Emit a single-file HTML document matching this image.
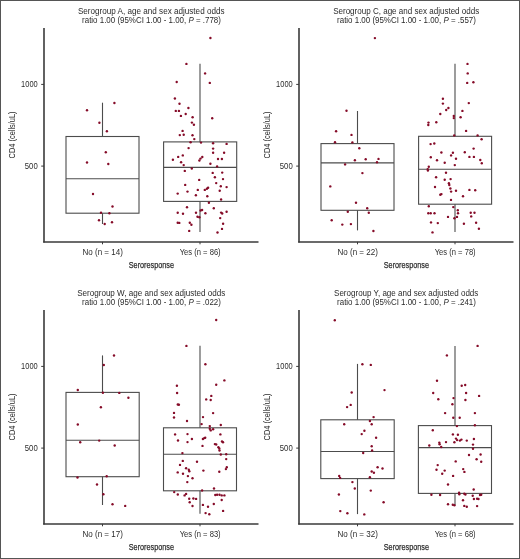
<!DOCTYPE html>
<html><head><meta charset="utf-8"><style>
html,body{margin:0;padding:0;background:#fff;}
body{width:520px;height:559px;overflow:hidden;}
svg{display:block;will-change:transform;}
text{font-family:"Liberation Sans", sans-serif;fill:#2b2b2b;}
</style></head><body>
<svg width="520" height="559" viewBox="0 0 520 559">
<rect x="0" y="0" width="520" height="559" fill="#fff"/>
<text x="151.2" y="13.5" text-anchor="middle" font-size="9.0" textLength="146.6" lengthAdjust="spacingAndGlyphs">Serogroup A, age and sex adjusted odds</text>
<text x="151.5" y="23.0" text-anchor="middle" font-size="9.0" textLength="138.8" lengthAdjust="spacingAndGlyphs">ratio 1.00 (95%CI 1.00 - 1.00, <tspan font-style="italic">P</tspan> = .778)</text>
<line x1="44" y1="28" x2="44" y2="242.6" stroke="#3a3a3a" stroke-width="1.6"/>
<line x1="43.2" y1="241.9" x2="258.5" y2="241.9" stroke="#3a3a3a" stroke-width="1.5"/>
<line x1="41.2" y1="84.4" x2="44" y2="84.4" stroke="#3a3a3a" stroke-width="1"/>
<text x="37.7" y="87.30000000000001" text-anchor="end" font-size="8.8" textLength="16.6" lengthAdjust="spacingAndGlyphs">1000</text>
<line x1="41.2" y1="166.1" x2="44" y2="166.1" stroke="#3a3a3a" stroke-width="1"/>
<text x="37.7" y="169.0" text-anchor="end" font-size="8.8" textLength="12.9" lengthAdjust="spacingAndGlyphs">500</text>
<line x1="102.5" y1="241.9" x2="102.5" y2="244.3" stroke="#3a3a3a" stroke-width="1"/>
<text x="102.7" y="254.7" text-anchor="middle" font-size="8.2" textLength="40.4" lengthAdjust="spacingAndGlyphs">No (n = 14)</text>
<line x1="200" y1="241.9" x2="200" y2="244.3" stroke="#3a3a3a" stroke-width="1"/>
<text x="200.2" y="254.7" text-anchor="middle" font-size="8.2" textLength="40.9" lengthAdjust="spacingAndGlyphs">Yes (n = 86)</text>
<text x="151.4" y="268.2" text-anchor="middle" font-size="9.9" textLength="45.3" lengthAdjust="spacingAndGlyphs" stroke="#2b2b2b" stroke-width="0.25">Seroresponse</text>
<text transform="translate(14.9,134.9) rotate(-90)" text-anchor="middle" font-size="8.6" textLength="47" lengthAdjust="spacingAndGlyphs">CD4 (cells/uL)</text>
<rect x="66" y="136.5" width="73" height="76.69999999999999" fill="none" stroke="#4c4c4c" stroke-width="1.1"/>
<line x1="66" y1="178.8" x2="139" y2="178.8" stroke="#4c4c4c" stroke-width="1.1"/>
<line x1="102.5" y1="102.7" x2="102.5" y2="136.5" stroke="#4c4c4c" stroke-width="1.1"/>
<line x1="102.5" y1="213.2" x2="102.5" y2="224" stroke="#4c4c4c" stroke-width="1.1"/>
<rect x="163.6" y="141.9" width="73.1" height="59.5" fill="none" stroke="#4c4c4c" stroke-width="1.1"/>
<line x1="163.6" y1="167.4" x2="236.7" y2="167.4" stroke="#4c4c4c" stroke-width="1.1"/>
<line x1="200.0" y1="63.8" x2="200.0" y2="141.9" stroke="#4c4c4c" stroke-width="1.1"/>
<line x1="200.0" y1="201.4" x2="200.0" y2="231.9" stroke="#4c4c4c" stroke-width="1.1"/>
<circle cx="114.4" cy="103.0" r="1.2" fill="#850b28"/>
<circle cx="87.0" cy="110.3" r="1.2" fill="#850b28"/>
<circle cx="99.4" cy="122.7" r="1.2" fill="#850b28"/>
<circle cx="106.9" cy="131.3" r="1.2" fill="#850b28"/>
<circle cx="105.8" cy="152.3" r="1.2" fill="#850b28"/>
<circle cx="87.0" cy="162.5" r="1.2" fill="#850b28"/>
<circle cx="108.3" cy="164.0" r="1.2" fill="#850b28"/>
<circle cx="93.0" cy="194.0" r="1.2" fill="#850b28"/>
<circle cx="112.5" cy="206.5" r="1.2" fill="#850b28"/>
<circle cx="101.0" cy="212.8" r="1.2" fill="#850b28"/>
<circle cx="109.4" cy="213.2" r="1.2" fill="#850b28"/>
<circle cx="99.0" cy="220.3" r="1.2" fill="#850b28"/>
<circle cx="104.7" cy="224.0" r="1.2" fill="#850b28"/>
<circle cx="112.0" cy="222.2" r="1.2" fill="#850b28"/>
<circle cx="210.4" cy="38.0" r="1.2" fill="#850b28"/>
<circle cx="186.4" cy="63.9" r="1.2" fill="#850b28"/>
<circle cx="205.1" cy="73.4" r="1.2" fill="#850b28"/>
<circle cx="176.7" cy="82.0" r="1.2" fill="#850b28"/>
<circle cx="209.8" cy="82.9" r="1.2" fill="#850b28"/>
<circle cx="174.9" cy="98.5" r="1.2" fill="#850b28"/>
<circle cx="179.5" cy="103.8" r="1.2" fill="#850b28"/>
<circle cx="175.8" cy="110.9" r="1.2" fill="#850b28"/>
<circle cx="178.9" cy="110.9" r="1.2" fill="#850b28"/>
<circle cx="188.4" cy="108.0" r="1.2" fill="#850b28"/>
<circle cx="180.9" cy="115.9" r="1.2" fill="#850b28"/>
<circle cx="185.7" cy="114.0" r="1.2" fill="#850b28"/>
<circle cx="192.6" cy="117.3" r="1.2" fill="#850b28"/>
<circle cx="212.2" cy="118.3" r="1.2" fill="#850b28"/>
<circle cx="191.9" cy="122.6" r="1.2" fill="#850b28"/>
<circle cx="193.9" cy="124.8" r="1.2" fill="#850b28"/>
<circle cx="182.6" cy="130.9" r="1.2" fill="#850b28"/>
<circle cx="179.8" cy="135.1" r="1.2" fill="#850b28"/>
<circle cx="183.7" cy="134.7" r="1.2" fill="#850b28"/>
<circle cx="192.5" cy="135.2" r="1.2" fill="#850b28"/>
<circle cx="194.3" cy="139.1" r="1.2" fill="#850b28"/>
<circle cx="190.6" cy="142.2" r="1.2" fill="#850b28"/>
<circle cx="201.0" cy="142.6" r="1.2" fill="#850b28"/>
<circle cx="213.1" cy="143.2" r="1.2" fill="#850b28"/>
<circle cx="226.6" cy="143.9" r="1.2" fill="#850b28"/>
<circle cx="188.6" cy="148.1" r="1.2" fill="#850b28"/>
<circle cx="213.1" cy="148.6" r="1.2" fill="#850b28"/>
<circle cx="213.1" cy="152.7" r="1.2" fill="#850b28"/>
<circle cx="224.1" cy="152.7" r="1.2" fill="#850b28"/>
<circle cx="182.8" cy="155.4" r="1.2" fill="#850b28"/>
<circle cx="178.2" cy="156.9" r="1.2" fill="#850b28"/>
<circle cx="172.9" cy="159.8" r="1.2" fill="#850b28"/>
<circle cx="202.3" cy="157.0" r="1.2" fill="#850b28"/>
<circle cx="200.5" cy="158.6" r="1.2" fill="#850b28"/>
<circle cx="199.4" cy="160.5" r="1.2" fill="#850b28"/>
<circle cx="218.0" cy="159.0" r="1.2" fill="#850b28"/>
<circle cx="221.9" cy="159.0" r="1.2" fill="#850b28"/>
<circle cx="181.1" cy="162.2" r="1.2" fill="#850b28"/>
<circle cx="183.7" cy="165.1" r="1.2" fill="#850b28"/>
<circle cx="210.4" cy="163.7" r="1.2" fill="#850b28"/>
<circle cx="217.1" cy="166.4" r="1.2" fill="#850b28"/>
<circle cx="191.8" cy="168.5" r="1.2" fill="#850b28"/>
<circle cx="184.8" cy="170.9" r="1.2" fill="#850b28"/>
<circle cx="212.7" cy="172.9" r="1.2" fill="#850b28"/>
<circle cx="222.2" cy="172.6" r="1.2" fill="#850b28"/>
<circle cx="214.9" cy="177.3" r="1.2" fill="#850b28"/>
<circle cx="199.2" cy="179.9" r="1.2" fill="#850b28"/>
<circle cx="223.0" cy="179.1" r="1.2" fill="#850b28"/>
<circle cx="216.2" cy="183.1" r="1.2" fill="#850b28"/>
<circle cx="185.2" cy="184.9" r="1.2" fill="#850b28"/>
<circle cx="220.8" cy="186.3" r="1.2" fill="#850b28"/>
<circle cx="226.6" cy="187.1" r="1.2" fill="#850b28"/>
<circle cx="197.8" cy="189.9" r="1.2" fill="#850b28"/>
<circle cx="204.8" cy="189.9" r="1.2" fill="#850b28"/>
<circle cx="206.9" cy="188.7" r="1.2" fill="#850b28"/>
<circle cx="208.1" cy="187.8" r="1.2" fill="#850b28"/>
<circle cx="187.5" cy="191.6" r="1.2" fill="#850b28"/>
<circle cx="219.7" cy="190.7" r="1.2" fill="#850b28"/>
<circle cx="177.7" cy="193.6" r="1.2" fill="#850b28"/>
<circle cx="195.9" cy="195.2" r="1.2" fill="#850b28"/>
<circle cx="207.3" cy="196.2" r="1.2" fill="#850b28"/>
<circle cx="221.1" cy="199.5" r="1.2" fill="#850b28"/>
<circle cx="208.9" cy="202.8" r="1.2" fill="#850b28"/>
<circle cx="187.0" cy="207.3" r="1.2" fill="#850b28"/>
<circle cx="213.8" cy="208.3" r="1.2" fill="#850b28"/>
<circle cx="200.6" cy="210.5" r="1.2" fill="#850b28"/>
<circle cx="202.1" cy="210.0" r="1.2" fill="#850b28"/>
<circle cx="177.7" cy="212.8" r="1.2" fill="#850b28"/>
<circle cx="183.0" cy="213.7" r="1.2" fill="#850b28"/>
<circle cx="196.0" cy="212.7" r="1.2" fill="#850b28"/>
<circle cx="205.4" cy="213.3" r="1.2" fill="#850b28"/>
<circle cx="221.1" cy="212.6" r="1.2" fill="#850b28"/>
<circle cx="222.2" cy="213.5" r="1.2" fill="#850b28"/>
<circle cx="226.6" cy="211.7" r="1.2" fill="#850b28"/>
<circle cx="197.5" cy="216.8" r="1.2" fill="#850b28"/>
<circle cx="199.4" cy="217.3" r="1.2" fill="#850b28"/>
<circle cx="220.2" cy="218.1" r="1.2" fill="#850b28"/>
<circle cx="177.7" cy="222.7" r="1.2" fill="#850b28"/>
<circle cx="179.3" cy="222.9" r="1.2" fill="#850b28"/>
<circle cx="189.8" cy="222.8" r="1.2" fill="#850b28"/>
<circle cx="191.4" cy="224.8" r="1.2" fill="#850b28"/>
<circle cx="223.1" cy="223.8" r="1.2" fill="#850b28"/>
<circle cx="222.0" cy="228.9" r="1.2" fill="#850b28"/>
<circle cx="189.2" cy="230.9" r="1.2" fill="#850b28"/>
<circle cx="217.5" cy="232.5" r="1.2" fill="#850b28"/>
<text x="406.2" y="13.5" text-anchor="middle" font-size="9.0" textLength="146.1" lengthAdjust="spacingAndGlyphs">Serogroup C, age and sex adjusted odds</text>
<text x="406.5" y="23.0" text-anchor="middle" font-size="9.0" textLength="138.8" lengthAdjust="spacingAndGlyphs">ratio 1.00 (95%CI 1.00 - 1.00, <tspan font-style="italic">P</tspan> = .557)</text>
<line x1="299" y1="28" x2="299" y2="242.6" stroke="#3a3a3a" stroke-width="1.6"/>
<line x1="298.2" y1="241.9" x2="513.5" y2="241.9" stroke="#3a3a3a" stroke-width="1.5"/>
<line x1="296.2" y1="84.4" x2="299" y2="84.4" stroke="#3a3a3a" stroke-width="1"/>
<text x="292.7" y="87.30000000000001" text-anchor="end" font-size="8.8" textLength="16.6" lengthAdjust="spacingAndGlyphs">1000</text>
<line x1="296.2" y1="166.1" x2="299" y2="166.1" stroke="#3a3a3a" stroke-width="1"/>
<text x="292.7" y="169.0" text-anchor="end" font-size="8.8" textLength="12.9" lengthAdjust="spacingAndGlyphs">500</text>
<line x1="357.5" y1="241.9" x2="357.5" y2="244.3" stroke="#3a3a3a" stroke-width="1"/>
<text x="357.7" y="254.7" text-anchor="middle" font-size="8.2" textLength="40.4" lengthAdjust="spacingAndGlyphs">No (n = 22)</text>
<line x1="455" y1="241.9" x2="455" y2="244.3" stroke="#3a3a3a" stroke-width="1"/>
<text x="455.2" y="254.7" text-anchor="middle" font-size="8.2" textLength="40.9" lengthAdjust="spacingAndGlyphs">Yes (n = 78)</text>
<text x="406.4" y="268.2" text-anchor="middle" font-size="9.9" textLength="45.3" lengthAdjust="spacingAndGlyphs" stroke="#2b2b2b" stroke-width="0.25">Seroresponse</text>
<text transform="translate(269.9,134.9) rotate(-90)" text-anchor="middle" font-size="8.6" textLength="47" lengthAdjust="spacingAndGlyphs">CD4 (cells/uL)</text>
<rect x="321" y="143.6" width="73" height="66.70000000000002" fill="none" stroke="#4c4c4c" stroke-width="1.1"/>
<line x1="321" y1="162.9" x2="394" y2="162.9" stroke="#4c4c4c" stroke-width="1.1"/>
<line x1="357.5" y1="111" x2="357.5" y2="143.6" stroke="#4c4c4c" stroke-width="1.1"/>
<line x1="357.5" y1="210.3" x2="357.5" y2="230.4" stroke="#4c4c4c" stroke-width="1.1"/>
<rect x="418.6" y="136.3" width="73.0" height="67.89999999999998" fill="none" stroke="#4c4c4c" stroke-width="1.1"/>
<line x1="418.6" y1="169.3" x2="491.6" y2="169.3" stroke="#4c4c4c" stroke-width="1.1"/>
<line x1="455.0" y1="63.7" x2="455.0" y2="136.3" stroke="#4c4c4c" stroke-width="1.1"/>
<line x1="455.0" y1="204.2" x2="455.0" y2="231.9" stroke="#4c4c4c" stroke-width="1.1"/>
<circle cx="374.9" cy="38.1" r="1.2" fill="#850b28"/>
<circle cx="346.5" cy="110.8" r="1.2" fill="#850b28"/>
<circle cx="336.1" cy="131.3" r="1.2" fill="#850b28"/>
<circle cx="351.5" cy="134.9" r="1.2" fill="#850b28"/>
<circle cx="335.0" cy="142.3" r="1.2" fill="#850b28"/>
<circle cx="352.4" cy="142.4" r="1.2" fill="#850b28"/>
<circle cx="359.3" cy="148.3" r="1.2" fill="#850b28"/>
<circle cx="354.9" cy="160.2" r="1.2" fill="#850b28"/>
<circle cx="365.7" cy="159.2" r="1.2" fill="#850b28"/>
<circle cx="378.5" cy="158.9" r="1.2" fill="#850b28"/>
<circle cx="377.0" cy="162.3" r="1.2" fill="#850b28"/>
<circle cx="345.1" cy="164.4" r="1.2" fill="#850b28"/>
<circle cx="362.4" cy="173.1" r="1.2" fill="#850b28"/>
<circle cx="330.3" cy="186.4" r="1.2" fill="#850b28"/>
<circle cx="356.0" cy="202.7" r="1.2" fill="#850b28"/>
<circle cx="367.2" cy="208.3" r="1.2" fill="#850b28"/>
<circle cx="347.8" cy="211.8" r="1.2" fill="#850b28"/>
<circle cx="368.8" cy="212.7" r="1.2" fill="#850b28"/>
<circle cx="331.7" cy="220.2" r="1.2" fill="#850b28"/>
<circle cx="342.3" cy="224.6" r="1.2" fill="#850b28"/>
<circle cx="350.9" cy="224.1" r="1.2" fill="#850b28"/>
<circle cx="373.4" cy="231.0" r="1.2" fill="#850b28"/>
<circle cx="467.5" cy="63.9" r="1.2" fill="#850b28"/>
<circle cx="467.7" cy="73.4" r="1.2" fill="#850b28"/>
<circle cx="467.2" cy="82.9" r="1.2" fill="#850b28"/>
<circle cx="473.4" cy="82.2" r="1.2" fill="#850b28"/>
<circle cx="442.9" cy="98.7" r="1.2" fill="#850b28"/>
<circle cx="442.9" cy="103.6" r="1.2" fill="#850b28"/>
<circle cx="468.8" cy="103.1" r="1.2" fill="#850b28"/>
<circle cx="448.4" cy="108.0" r="1.2" fill="#850b28"/>
<circle cx="446.2" cy="110.0" r="1.2" fill="#850b28"/>
<circle cx="462.4" cy="110.9" r="1.2" fill="#850b28"/>
<circle cx="440.3" cy="114.0" r="1.2" fill="#850b28"/>
<circle cx="453.8" cy="115.9" r="1.2" fill="#850b28"/>
<circle cx="453.8" cy="118.1" r="1.2" fill="#850b28"/>
<circle cx="460.6" cy="117.3" r="1.2" fill="#850b28"/>
<circle cx="436.3" cy="122.3" r="1.2" fill="#850b28"/>
<circle cx="428.5" cy="122.6" r="1.2" fill="#850b28"/>
<circle cx="428.3" cy="125.0" r="1.2" fill="#850b28"/>
<circle cx="466.1" cy="130.9" r="1.2" fill="#850b28"/>
<circle cx="454.2" cy="135.4" r="1.2" fill="#850b28"/>
<circle cx="477.6" cy="135.4" r="1.2" fill="#850b28"/>
<circle cx="481.6" cy="139.3" r="1.2" fill="#850b28"/>
<circle cx="430.6" cy="144.1" r="1.2" fill="#850b28"/>
<circle cx="434.3" cy="143.5" r="1.2" fill="#850b28"/>
<circle cx="473.6" cy="148.6" r="1.2" fill="#850b28"/>
<circle cx="441.4" cy="152.5" r="1.2" fill="#850b28"/>
<circle cx="452.9" cy="152.7" r="1.2" fill="#850b28"/>
<circle cx="464.8" cy="152.3" r="1.2" fill="#850b28"/>
<circle cx="451.1" cy="155.4" r="1.2" fill="#850b28"/>
<circle cx="430.8" cy="157.2" r="1.2" fill="#850b28"/>
<circle cx="456.0" cy="158.7" r="1.2" fill="#850b28"/>
<circle cx="469.4" cy="156.9" r="1.2" fill="#850b28"/>
<circle cx="473.9" cy="156.9" r="1.2" fill="#850b28"/>
<circle cx="437.0" cy="160.3" r="1.2" fill="#850b28"/>
<circle cx="444.7" cy="162.7" r="1.2" fill="#850b28"/>
<circle cx="480.3" cy="160.0" r="1.2" fill="#850b28"/>
<circle cx="481.8" cy="163.3" r="1.2" fill="#850b28"/>
<circle cx="454.8" cy="165.1" r="1.2" fill="#850b28"/>
<circle cx="428.8" cy="166.7" r="1.2" fill="#850b28"/>
<circle cx="427.7" cy="169.1" r="1.2" fill="#850b28"/>
<circle cx="427.9" cy="170.6" r="1.2" fill="#850b28"/>
<circle cx="446.0" cy="172.8" r="1.2" fill="#850b28"/>
<circle cx="436.1" cy="177.3" r="1.2" fill="#850b28"/>
<circle cx="444.7" cy="179.7" r="1.2" fill="#850b28"/>
<circle cx="450.6" cy="179.1" r="1.2" fill="#850b28"/>
<circle cx="448.9" cy="183.3" r="1.2" fill="#850b28"/>
<circle cx="449.3" cy="185.0" r="1.2" fill="#850b28"/>
<circle cx="435.0" cy="187.0" r="1.2" fill="#850b28"/>
<circle cx="450.4" cy="188.5" r="1.2" fill="#850b28"/>
<circle cx="451.1" cy="191.6" r="1.2" fill="#850b28"/>
<circle cx="456.0" cy="190.7" r="1.2" fill="#850b28"/>
<circle cx="469.4" cy="189.9" r="1.2" fill="#850b28"/>
<circle cx="475.2" cy="190.2" r="1.2" fill="#850b28"/>
<circle cx="440.3" cy="194.7" r="1.2" fill="#850b28"/>
<circle cx="441.4" cy="194.1" r="1.2" fill="#850b28"/>
<circle cx="463.0" cy="196.3" r="1.2" fill="#850b28"/>
<circle cx="451.0" cy="199.9" r="1.2" fill="#850b28"/>
<circle cx="428.8" cy="206.3" r="1.2" fill="#850b28"/>
<circle cx="453.3" cy="207.1" r="1.2" fill="#850b28"/>
<circle cx="457.8" cy="210.3" r="1.2" fill="#850b28"/>
<circle cx="428.3" cy="213.3" r="1.2" fill="#850b28"/>
<circle cx="430.7" cy="213.3" r="1.2" fill="#850b28"/>
<circle cx="434.5" cy="213.3" r="1.2" fill="#850b28"/>
<circle cx="458.0" cy="213.3" r="1.2" fill="#850b28"/>
<circle cx="470.7" cy="212.7" r="1.2" fill="#850b28"/>
<circle cx="474.5" cy="212.7" r="1.2" fill="#850b28"/>
<circle cx="471.2" cy="216.4" r="1.2" fill="#850b28"/>
<circle cx="448.0" cy="216.9" r="1.2" fill="#850b28"/>
<circle cx="457.0" cy="216.9" r="1.2" fill="#850b28"/>
<circle cx="454.4" cy="218.2" r="1.2" fill="#850b28"/>
<circle cx="431.0" cy="222.4" r="1.2" fill="#850b28"/>
<circle cx="437.8" cy="223.1" r="1.2" fill="#850b28"/>
<circle cx="463.9" cy="223.7" r="1.2" fill="#850b28"/>
<circle cx="476.1" cy="222.8" r="1.2" fill="#850b28"/>
<circle cx="478.9" cy="228.8" r="1.2" fill="#850b28"/>
<circle cx="432.5" cy="232.4" r="1.2" fill="#850b28"/>
<text x="151.2" y="295.5" text-anchor="middle" font-size="9.0" textLength="148" lengthAdjust="spacingAndGlyphs">Serogroup W, age and sex adjusted odds</text>
<text x="151.5" y="305.0" text-anchor="middle" font-size="9.0" textLength="138.8" lengthAdjust="spacingAndGlyphs">ratio 1.00 (95%CI 1.00 - 1.00, <tspan font-style="italic">P</tspan> = .022)</text>
<line x1="44" y1="310" x2="44" y2="524.6" stroke="#3a3a3a" stroke-width="1.6"/>
<line x1="43.2" y1="523.9" x2="258.5" y2="523.9" stroke="#3a3a3a" stroke-width="1.5"/>
<line x1="41.2" y1="366.4" x2="44" y2="366.4" stroke="#3a3a3a" stroke-width="1"/>
<text x="37.7" y="369.3" text-anchor="end" font-size="8.8" textLength="16.6" lengthAdjust="spacingAndGlyphs">1000</text>
<line x1="41.2" y1="448.1" x2="44" y2="448.1" stroke="#3a3a3a" stroke-width="1"/>
<text x="37.7" y="451.0" text-anchor="end" font-size="8.8" textLength="12.9" lengthAdjust="spacingAndGlyphs">500</text>
<line x1="102.5" y1="523.9" x2="102.5" y2="526.3" stroke="#3a3a3a" stroke-width="1"/>
<text x="102.7" y="536.7" text-anchor="middle" font-size="8.2" textLength="40.4" lengthAdjust="spacingAndGlyphs">No (n = 17)</text>
<line x1="200" y1="523.9" x2="200" y2="526.3" stroke="#3a3a3a" stroke-width="1"/>
<text x="200.2" y="536.7" text-anchor="middle" font-size="8.2" textLength="40.9" lengthAdjust="spacingAndGlyphs">Yes (n = 83)</text>
<text x="151.4" y="550.2" text-anchor="middle" font-size="9.9" textLength="45.3" lengthAdjust="spacingAndGlyphs" stroke="#2b2b2b" stroke-width="0.25">Seroresponse</text>
<text transform="translate(14.9,416.9) rotate(-90)" text-anchor="middle" font-size="8.6" textLength="47" lengthAdjust="spacingAndGlyphs">CD4 (cells/uL)</text>
<rect x="66" y="392.4" width="73.19999999999999" height="84.30000000000001" fill="none" stroke="#4c4c4c" stroke-width="1.1"/>
<line x1="66" y1="440.3" x2="139.2" y2="440.3" stroke="#4c4c4c" stroke-width="1.1"/>
<line x1="102.5" y1="355.4" x2="102.5" y2="392.4" stroke="#4c4c4c" stroke-width="1.1"/>
<line x1="102.5" y1="476.7" x2="102.5" y2="505" stroke="#4c4c4c" stroke-width="1.1"/>
<rect x="163.5" y="427.8" width="73.0" height="63.0" fill="none" stroke="#4c4c4c" stroke-width="1.1"/>
<line x1="163.5" y1="454.3" x2="236.5" y2="454.3" stroke="#4c4c4c" stroke-width="1.1"/>
<line x1="200.0" y1="345.8" x2="200.0" y2="427.8" stroke="#4c4c4c" stroke-width="1.1"/>
<line x1="200.0" y1="490.8" x2="200.0" y2="513.7" stroke="#4c4c4c" stroke-width="1.1"/>
<circle cx="114.0" cy="355.5" r="1.2" fill="#850b28"/>
<circle cx="103.8" cy="365.0" r="1.2" fill="#850b28"/>
<circle cx="77.8" cy="390.0" r="1.2" fill="#850b28"/>
<circle cx="102.9" cy="392.7" r="1.2" fill="#850b28"/>
<circle cx="119.3" cy="392.9" r="1.2" fill="#850b28"/>
<circle cx="128.4" cy="397.8" r="1.2" fill="#850b28"/>
<circle cx="100.9" cy="407.2" r="1.2" fill="#850b28"/>
<circle cx="77.8" cy="424.5" r="1.2" fill="#850b28"/>
<circle cx="80.2" cy="442.2" r="1.2" fill="#850b28"/>
<circle cx="99.2" cy="440.6" r="1.2" fill="#850b28"/>
<circle cx="114.7" cy="445.5" r="1.2" fill="#850b28"/>
<circle cx="77.5" cy="477.5" r="1.2" fill="#850b28"/>
<circle cx="106.7" cy="476.3" r="1.2" fill="#850b28"/>
<circle cx="97.0" cy="484.5" r="1.2" fill="#850b28"/>
<circle cx="103.4" cy="494.2" r="1.2" fill="#850b28"/>
<circle cx="112.5" cy="504.2" r="1.2" fill="#850b28"/>
<circle cx="125.2" cy="505.9" r="1.2" fill="#850b28"/>
<circle cx="216.2" cy="320.0" r="1.2" fill="#850b28"/>
<circle cx="186.4" cy="345.9" r="1.2" fill="#850b28"/>
<circle cx="205.4" cy="364.2" r="1.2" fill="#850b28"/>
<circle cx="224.4" cy="380.4" r="1.2" fill="#850b28"/>
<circle cx="216.2" cy="384.8" r="1.2" fill="#850b28"/>
<circle cx="176.9" cy="385.7" r="1.2" fill="#850b28"/>
<circle cx="177.1" cy="393.0" r="1.2" fill="#850b28"/>
<circle cx="211.3" cy="395.9" r="1.2" fill="#850b28"/>
<circle cx="206.2" cy="399.4" r="1.2" fill="#850b28"/>
<circle cx="210.7" cy="400.0" r="1.2" fill="#850b28"/>
<circle cx="177.8" cy="404.5" r="1.2" fill="#850b28"/>
<circle cx="178.9" cy="404.7" r="1.2" fill="#850b28"/>
<circle cx="174.0" cy="412.9" r="1.2" fill="#850b28"/>
<circle cx="213.1" cy="413.1" r="1.2" fill="#850b28"/>
<circle cx="174.0" cy="417.5" r="1.2" fill="#850b28"/>
<circle cx="203.0" cy="417.1" r="1.2" fill="#850b28"/>
<circle cx="187.0" cy="421.0" r="1.2" fill="#850b28"/>
<circle cx="201.6" cy="424.1" r="1.2" fill="#850b28"/>
<circle cx="209.8" cy="426.1" r="1.2" fill="#850b28"/>
<circle cx="220.8" cy="425.0" r="1.2" fill="#850b28"/>
<circle cx="209.8" cy="428.8" r="1.2" fill="#850b28"/>
<circle cx="210.7" cy="430.4" r="1.2" fill="#850b28"/>
<circle cx="213.1" cy="429.3" r="1.2" fill="#850b28"/>
<circle cx="175.1" cy="434.4" r="1.2" fill="#850b28"/>
<circle cx="187.5" cy="434.1" r="1.2" fill="#850b28"/>
<circle cx="220.4" cy="434.4" r="1.2" fill="#850b28"/>
<circle cx="178.0" cy="440.5" r="1.2" fill="#850b28"/>
<circle cx="187.5" cy="442.1" r="1.2" fill="#850b28"/>
<circle cx="191.9" cy="439.0" r="1.2" fill="#850b28"/>
<circle cx="202.9" cy="439.0" r="1.2" fill="#850b28"/>
<circle cx="204.3" cy="438.1" r="1.2" fill="#850b28"/>
<circle cx="205.2" cy="437.7" r="1.2" fill="#850b28"/>
<circle cx="222.0" cy="441.4" r="1.2" fill="#850b28"/>
<circle cx="223.0" cy="442.3" r="1.2" fill="#850b28"/>
<circle cx="202.5" cy="445.9" r="1.2" fill="#850b28"/>
<circle cx="214.9" cy="444.1" r="1.2" fill="#850b28"/>
<circle cx="216.2" cy="444.5" r="1.2" fill="#850b28"/>
<circle cx="218.4" cy="447.2" r="1.2" fill="#850b28"/>
<circle cx="219.3" cy="448.5" r="1.2" fill="#850b28"/>
<circle cx="219.5" cy="450.5" r="1.2" fill="#850b28"/>
<circle cx="182.4" cy="453.1" r="1.2" fill="#850b28"/>
<circle cx="220.8" cy="454.5" r="1.2" fill="#850b28"/>
<circle cx="226.2" cy="454.2" r="1.2" fill="#850b28"/>
<circle cx="226.2" cy="459.1" r="1.2" fill="#850b28"/>
<circle cx="182.8" cy="460.9" r="1.2" fill="#850b28"/>
<circle cx="197.0" cy="461.8" r="1.2" fill="#850b28"/>
<circle cx="180.0" cy="464.9" r="1.2" fill="#850b28"/>
<circle cx="226.8" cy="467.3" r="1.2" fill="#850b28"/>
<circle cx="225.9" cy="469.1" r="1.2" fill="#850b28"/>
<circle cx="186.1" cy="468.2" r="1.2" fill="#850b28"/>
<circle cx="188.8" cy="469.7" r="1.2" fill="#850b28"/>
<circle cx="189.3" cy="471.3" r="1.2" fill="#850b28"/>
<circle cx="203.4" cy="470.6" r="1.2" fill="#850b28"/>
<circle cx="219.3" cy="471.7" r="1.2" fill="#850b28"/>
<circle cx="177.7" cy="472.4" r="1.2" fill="#850b28"/>
<circle cx="183.0" cy="473.7" r="1.2" fill="#850b28"/>
<circle cx="187.9" cy="476.1" r="1.2" fill="#850b28"/>
<circle cx="192.5" cy="478.3" r="1.2" fill="#850b28"/>
<circle cx="187.3" cy="482.1" r="1.2" fill="#850b28"/>
<circle cx="214.0" cy="488.5" r="1.2" fill="#850b28"/>
<circle cx="202.1" cy="490.5" r="1.2" fill="#850b28"/>
<circle cx="174.2" cy="492.1" r="1.2" fill="#850b28"/>
<circle cx="177.8" cy="494.5" r="1.2" fill="#850b28"/>
<circle cx="184.6" cy="495.4" r="1.2" fill="#850b28"/>
<circle cx="186.1" cy="493.9" r="1.2" fill="#850b28"/>
<circle cx="215.3" cy="495.0" r="1.2" fill="#850b28"/>
<circle cx="217.1" cy="494.7" r="1.2" fill="#850b28"/>
<circle cx="219.5" cy="494.8" r="1.2" fill="#850b28"/>
<circle cx="221.7" cy="495.4" r="1.2" fill="#850b28"/>
<circle cx="224.4" cy="495.4" r="1.2" fill="#850b28"/>
<circle cx="189.2" cy="498.7" r="1.2" fill="#850b28"/>
<circle cx="193.4" cy="498.5" r="1.2" fill="#850b28"/>
<circle cx="196.1" cy="498.9" r="1.2" fill="#850b28"/>
<circle cx="221.7" cy="500.0" r="1.2" fill="#850b28"/>
<circle cx="189.7" cy="502.3" r="1.2" fill="#850b28"/>
<circle cx="192.5" cy="506.0" r="1.2" fill="#850b28"/>
<circle cx="202.9" cy="504.9" r="1.2" fill="#850b28"/>
<circle cx="208.0" cy="506.7" r="1.2" fill="#850b28"/>
<circle cx="213.8" cy="504.0" r="1.2" fill="#850b28"/>
<circle cx="223.1" cy="510.9" r="1.2" fill="#850b28"/>
<circle cx="205.6" cy="513.1" r="1.2" fill="#850b28"/>
<circle cx="209.3" cy="514.2" r="1.2" fill="#850b28"/>
<text x="406.2" y="295.5" text-anchor="middle" font-size="9.0" textLength="144.3" lengthAdjust="spacingAndGlyphs">Serogroup Y, age and sex adjusted odds</text>
<text x="406.5" y="305.0" text-anchor="middle" font-size="9.0" textLength="138.8" lengthAdjust="spacingAndGlyphs">ratio 1.00 (95%CI 1.00 - 1.00, <tspan font-style="italic">P</tspan> = .241)</text>
<line x1="299" y1="310" x2="299" y2="524.6" stroke="#3a3a3a" stroke-width="1.6"/>
<line x1="298.2" y1="523.9" x2="513.5" y2="523.9" stroke="#3a3a3a" stroke-width="1.5"/>
<line x1="296.2" y1="366.4" x2="299" y2="366.4" stroke="#3a3a3a" stroke-width="1"/>
<text x="292.7" y="369.3" text-anchor="end" font-size="8.8" textLength="16.6" lengthAdjust="spacingAndGlyphs">1000</text>
<line x1="296.2" y1="448.1" x2="299" y2="448.1" stroke="#3a3a3a" stroke-width="1"/>
<text x="292.7" y="451.0" text-anchor="end" font-size="8.8" textLength="12.9" lengthAdjust="spacingAndGlyphs">500</text>
<line x1="357.5" y1="523.9" x2="357.5" y2="526.3" stroke="#3a3a3a" stroke-width="1"/>
<text x="357.7" y="536.7" text-anchor="middle" font-size="8.2" textLength="40.4" lengthAdjust="spacingAndGlyphs">No (n = 32)</text>
<line x1="455" y1="523.9" x2="455" y2="526.3" stroke="#3a3a3a" stroke-width="1"/>
<text x="455.2" y="536.7" text-anchor="middle" font-size="8.2" textLength="40.9" lengthAdjust="spacingAndGlyphs">Yes (n = 68)</text>
<text x="406.4" y="550.2" text-anchor="middle" font-size="9.9" textLength="45.3" lengthAdjust="spacingAndGlyphs" stroke="#2b2b2b" stroke-width="0.25">Seroresponse</text>
<text transform="translate(269.9,416.9) rotate(-90)" text-anchor="middle" font-size="8.6" textLength="47" lengthAdjust="spacingAndGlyphs">CD4 (cells/uL)</text>
<rect x="320.8" y="419.8" width="73.39999999999998" height="58.80000000000001" fill="none" stroke="#4c4c4c" stroke-width="1.1"/>
<line x1="320.8" y1="451.5" x2="394.2" y2="451.5" stroke="#4c4c4c" stroke-width="1.1"/>
<line x1="357.5" y1="363.9" x2="357.5" y2="419.8" stroke="#4c4c4c" stroke-width="1.1"/>
<line x1="357.5" y1="478.6" x2="357.5" y2="514.1" stroke="#4c4c4c" stroke-width="1.1"/>
<rect x="418.4" y="425.6" width="73.10000000000002" height="67.79999999999995" fill="none" stroke="#4c4c4c" stroke-width="1.1"/>
<line x1="418.4" y1="447.6" x2="491.5" y2="447.6" stroke="#4c4c4c" stroke-width="1.1"/>
<line x1="455.0" y1="345.9" x2="455.0" y2="425.6" stroke="#4c4c4c" stroke-width="1.1"/>
<line x1="455.0" y1="493.4" x2="455.0" y2="505.6" stroke="#4c4c4c" stroke-width="1.1"/>
<circle cx="334.8" cy="320.2" r="1.2" fill="#850b28"/>
<circle cx="362.4" cy="364.2" r="1.2" fill="#850b28"/>
<circle cx="370.8" cy="364.9" r="1.2" fill="#850b28"/>
<circle cx="384.5" cy="390.1" r="1.2" fill="#850b28"/>
<circle cx="351.7" cy="392.5" r="1.2" fill="#850b28"/>
<circle cx="350.7" cy="404.9" r="1.2" fill="#850b28"/>
<circle cx="347.1" cy="407.1" r="1.2" fill="#850b28"/>
<circle cx="373.6" cy="417.1" r="1.2" fill="#850b28"/>
<circle cx="369.9" cy="421.0" r="1.2" fill="#850b28"/>
<circle cx="371.7" cy="424.3" r="1.2" fill="#850b28"/>
<circle cx="344.2" cy="424.3" r="1.2" fill="#850b28"/>
<circle cx="364.4" cy="430.8" r="1.2" fill="#850b28"/>
<circle cx="361.7" cy="434.1" r="1.2" fill="#850b28"/>
<circle cx="376.1" cy="437.8" r="1.2" fill="#850b28"/>
<circle cx="371.7" cy="446.3" r="1.2" fill="#850b28"/>
<circle cx="372.1" cy="450.5" r="1.2" fill="#850b28"/>
<circle cx="363.2" cy="453.0" r="1.2" fill="#850b28"/>
<circle cx="377.6" cy="467.3" r="1.2" fill="#850b28"/>
<circle cx="382.5" cy="468.5" r="1.2" fill="#850b28"/>
<circle cx="371.7" cy="471.5" r="1.2" fill="#850b28"/>
<circle cx="373.9" cy="472.8" r="1.2" fill="#850b28"/>
<circle cx="339.2" cy="475.9" r="1.2" fill="#850b28"/>
<circle cx="340.1" cy="477.9" r="1.2" fill="#850b28"/>
<circle cx="369.9" cy="477.3" r="1.2" fill="#850b28"/>
<circle cx="352.4" cy="482.1" r="1.2" fill="#850b28"/>
<circle cx="354.8" cy="488.5" r="1.2" fill="#850b28"/>
<circle cx="370.8" cy="490.6" r="1.2" fill="#850b28"/>
<circle cx="338.9" cy="494.5" r="1.2" fill="#850b28"/>
<circle cx="383.6" cy="502.3" r="1.2" fill="#850b28"/>
<circle cx="340.3" cy="511.1" r="1.2" fill="#850b28"/>
<circle cx="347.4" cy="513.3" r="1.2" fill="#850b28"/>
<circle cx="364.3" cy="514.4" r="1.2" fill="#850b28"/>
<circle cx="477.6" cy="345.9" r="1.2" fill="#850b28"/>
<circle cx="446.9" cy="355.4" r="1.2" fill="#850b28"/>
<circle cx="437.0" cy="380.8" r="1.2" fill="#850b28"/>
<circle cx="461.7" cy="385.7" r="1.2" fill="#850b28"/>
<circle cx="465.2" cy="385.0" r="1.2" fill="#850b28"/>
<circle cx="433.2" cy="393.0" r="1.2" fill="#850b28"/>
<circle cx="466.1" cy="393.0" r="1.2" fill="#850b28"/>
<circle cx="479.1" cy="395.9" r="1.2" fill="#850b28"/>
<circle cx="438.3" cy="399.2" r="1.2" fill="#850b28"/>
<circle cx="453.5" cy="398.1" r="1.2" fill="#850b28"/>
<circle cx="465.4" cy="400.0" r="1.2" fill="#850b28"/>
<circle cx="452.4" cy="404.2" r="1.2" fill="#850b28"/>
<circle cx="445.1" cy="413.1" r="1.2" fill="#850b28"/>
<circle cx="474.9" cy="413.1" r="1.2" fill="#850b28"/>
<circle cx="453.3" cy="417.7" r="1.2" fill="#850b28"/>
<circle cx="459.7" cy="417.7" r="1.2" fill="#850b28"/>
<circle cx="456.9" cy="426.1" r="1.2" fill="#850b28"/>
<circle cx="474.9" cy="425.2" r="1.2" fill="#850b28"/>
<circle cx="432.8" cy="430.2" r="1.2" fill="#850b28"/>
<circle cx="452.9" cy="434.4" r="1.2" fill="#850b28"/>
<circle cx="457.9" cy="434.8" r="1.2" fill="#850b28"/>
<circle cx="473.9" cy="439.0" r="1.2" fill="#850b28"/>
<circle cx="456.0" cy="438.6" r="1.2" fill="#850b28"/>
<circle cx="457.1" cy="440.1" r="1.2" fill="#850b28"/>
<circle cx="459.9" cy="440.6" r="1.2" fill="#850b28"/>
<circle cx="461.4" cy="439.6" r="1.2" fill="#850b28"/>
<circle cx="454.4" cy="442.3" r="1.2" fill="#850b28"/>
<circle cx="446.0" cy="442.1" r="1.2" fill="#850b28"/>
<circle cx="466.8" cy="440.6" r="1.2" fill="#850b28"/>
<circle cx="439.3" cy="442.6" r="1.2" fill="#850b28"/>
<circle cx="439.6" cy="444.3" r="1.2" fill="#850b28"/>
<circle cx="429.3" cy="445.5" r="1.2" fill="#850b28"/>
<circle cx="473.0" cy="444.6" r="1.2" fill="#850b28"/>
<circle cx="441.2" cy="447.0" r="1.2" fill="#850b28"/>
<circle cx="473.0" cy="448.7" r="1.2" fill="#850b28"/>
<circle cx="469.0" cy="455.0" r="1.2" fill="#850b28"/>
<circle cx="480.6" cy="454.5" r="1.2" fill="#850b28"/>
<circle cx="476.6" cy="459.3" r="1.2" fill="#850b28"/>
<circle cx="481.2" cy="461.8" r="1.2" fill="#850b28"/>
<circle cx="455.7" cy="461.4" r="1.2" fill="#850b28"/>
<circle cx="437.7" cy="465.1" r="1.2" fill="#850b28"/>
<circle cx="436.5" cy="469.7" r="1.2" fill="#850b28"/>
<circle cx="444.7" cy="470.6" r="1.2" fill="#850b28"/>
<circle cx="463.2" cy="469.1" r="1.2" fill="#850b28"/>
<circle cx="464.4" cy="471.9" r="1.2" fill="#850b28"/>
<circle cx="442.2" cy="473.8" r="1.2" fill="#850b28"/>
<circle cx="453.1" cy="475.9" r="1.2" fill="#850b28"/>
<circle cx="448.0" cy="484.5" r="1.2" fill="#850b28"/>
<circle cx="473.7" cy="489.5" r="1.2" fill="#850b28"/>
<circle cx="459.1" cy="492.8" r="1.2" fill="#850b28"/>
<circle cx="459.3" cy="494.3" r="1.2" fill="#850b28"/>
<circle cx="431.4" cy="494.7" r="1.2" fill="#850b28"/>
<circle cx="440.1" cy="495.0" r="1.2" fill="#850b28"/>
<circle cx="464.3" cy="493.8" r="1.2" fill="#850b28"/>
<circle cx="465.4" cy="494.5" r="1.2" fill="#850b28"/>
<circle cx="472.7" cy="495.8" r="1.2" fill="#850b28"/>
<circle cx="480.0" cy="495.0" r="1.2" fill="#850b28"/>
<circle cx="481.2" cy="494.8" r="1.2" fill="#850b28"/>
<circle cx="463.0" cy="500.2" r="1.2" fill="#850b28"/>
<circle cx="473.9" cy="499.0" r="1.2" fill="#850b28"/>
<circle cx="477.1" cy="498.8" r="1.2" fill="#850b28"/>
<circle cx="478.5" cy="499.0" r="1.2" fill="#850b28"/>
<circle cx="448.0" cy="504.2" r="1.2" fill="#850b28"/>
<circle cx="452.8" cy="504.7" r="1.2" fill="#850b28"/>
<circle cx="454.4" cy="505.2" r="1.2" fill="#850b28"/>
<circle cx="464.3" cy="505.9" r="1.2" fill="#850b28"/>
<circle cx="466.8" cy="506.8" r="1.2" fill="#850b28"/>
<circle cx="477.1" cy="506.1" r="1.2" fill="#850b28"/>
<rect x="0.5" y="0.5" width="519" height="558" fill="none" stroke="#555" stroke-width="1"/>
</svg>
</body></html>
